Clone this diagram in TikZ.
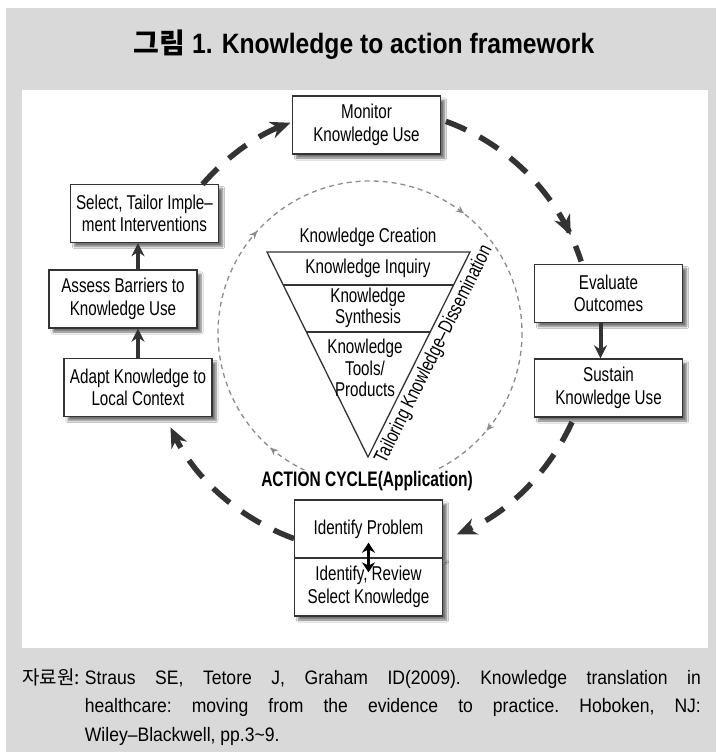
\documentclass[tikz,border=0pt]{standalone}
\usepackage{fontspec}
\setmainfont[FakeStretch=0.76]{Liberation Sans}
\newfontfamily\titlefont[FakeStretch=0.88]{Liberation Sans}
\newfontfamily\condfont[FakeStretch=0.74]{Liberation Sans}
\newfontfamily\notefont[FakeStretch=0.9]{Liberation Sans}
\newfontfamily\cjk{Noto Sans CJK KR}
\usetikzlibrary{
  arrows.meta,
  calc,
  positioning,
  shadows.blur,
  decorations.markings
}
\definecolor{panelgray}{HTML}{D9D9D9}
\definecolor{inkgray}{HTML}{333333}
\definecolor{ringgray}{HTML}{8C8C8C}
\tikzset{
  >=Stealth,
  line cap=round,
  line join=round,
  cyclebox/.style={draw=inkgray, line width=1.4pt, fill=white, minimum width=148pt, minimum height=58pt,
    align=center, inner sep=2pt, font=\fontsize{20}{22.5}\selectfont,
    blur shadow={shadow xshift=4pt, shadow yshift=-4pt, shadow blur steps=6, shadow opacity=55}},
  steparrow/.style={-{Stealth[length=13pt,width=13pt]}, line width=4pt, draw=inkgray},
  cyclearrow/.style={line width=5.5pt, draw=inkgray, line cap=butt, dash pattern=on 22pt off 15pt,
    -{Stealth[length=20pt,width=17pt]}},
  ring/.style={draw=ringgray, line width=1.3pt, dash pattern=on 5pt off 4pt},
  layerline/.style={draw=inkgray, line width=1.3pt},
  layertext/.style={font=\fontsize{20}{21.5}\selectfont, align=center, inner sep=1pt}
}

\begin{document}
\begin{tikzpicture}[x=1pt, y=-1pt]

% 바탕
\useasboundingbox (0,0) rectangle (716,752);
\fill[panelgray] (6,8) rectangle (716,752);
\fill[white] (22,90) rectangle (708,648);

% 제목
\node[font=\titlefont\bfseries\fontsize{28}{32}\selectfont] (title) at (364,45)
  {{\cjk\bfseries 그림} 1. Knowledge to action framework};

% 안쪽 점선 원
\coordinate (ring) at (370,333);
\draw[ring, postaction={decorate, decoration={markings,
    mark=at position 0.111 with {\arrow[ringgray]{Stealth[length=8pt,width=7pt]}},
    mark=at position 0.364 with {\arrow[ringgray]{Stealth[length=8pt,width=7pt]}},
    mark=at position 0.617 with {\arrow[ringgray]{Stealth[length=8pt,width=7pt]}},
    mark=at position 0.856 with {\arrow[ringgray]{Stealth[length=8pt,width=7pt]}}}}]
  ([shift={(0:152)}]ring) arc[start angle=0, end angle=360, radius=152];

% 지식 창출 깔때기
\coordinate (tl) at (267,252);
\coordinate (tr) at (470,252);
\coordinate (apex) at (368,457);
\draw[layerline] (tl) -- (tr) -- (apex) -- cycle;
\draw[layerline] ($(tl)!0.161!(apex)$) -- ($(tr)!0.161!(apex)$);
\draw[layerline] ($(tl)!0.39!(apex)$) -- ($(tr)!0.39!(apex)$);
\node[layertext] (creation) at (368,237) {Knowledge Creation};
\node[layertext] (inquiry) at (368,268.5) {Knowledge Inquiry};
\node[layertext] (synthesis) at (368,308) {Knowledge\\Synthesis};
\node[layertext] (tools) at (365,368) {Knowledge\\Tools/\\Products};
\path (apex) -- (tr) node[pos=0.53, sloped, below=3pt, layertext] (tailoring)
  {Tailoring Knowledge–Dissemination};

\node[font=\condfont\bfseries\fontsize{21}{24}\selectfont, fill=white, inner sep=1pt] (action)
  at (367,481) {ACTION CYCLE(Application)};

% 실행 순환 단계
\node[cyclebox] (monitor) at (366.5,125) {Monitor\\Knowledge Use};
\node[cyclebox] (select) at (144.5,213.5) {Select, Tailor Imple–\\ment Interventions};
\node[cyclebox] (assess) at (123,299) {Assess Barriers to\\Knowledge Use};
\node[cyclebox] (adapt) at (138,387.5) {Adapt Knowledge to\\Local Context};
\node[cyclebox] (evaluate) at (608.5,293.5) {Evaluate\\Outcomes};
\node[cyclebox] (sustain) at (608.5,388) {Sustain\\Knowledge Use};
\node[cyclebox] (problem) at (368.5,529) {Identify Problem};
\node[cyclebox, below=-1.4pt of problem] (review) {Identify, Review\\Select Knowledge};

% 단계 사이 화살표
\draw[steparrow] (adapt.north) -- (adapt.north |- assess.south);
\draw[steparrow] ([xshift=15pt]assess.north) -- ([xshift=15pt]assess.north |- select.south);
\draw[steparrow] ([xshift=-8pt]evaluate.south) -- ([xshift=-8pt]sustain.north);
\draw[{Stealth[length=10pt,width=13pt]}-{Stealth[length=10pt,width=13pt]}, line width=2.6pt, draw=black]
  ([yshift=16pt]problem.south) -- ([yshift=-15pt]review.north);

% 바깥 순환 화살표
\coordinate (hub) at (370,330);
\draw[cyclearrow] ([shift={(221:222)}]hub) arc[start angle=221, end angle=249, radius=222];
\draw[line width=5.5pt, draw=inkgray, line cap=butt, dash pattern=on 22pt off 15pt,
    postaction={decorate, decoration={markings,
    mark=at position 0.86 with {\arrow[inkgray]{Stealth[length=20pt,width=17pt]}}}}]
  ([shift={(290:222)}]hub) arc[start angle=290, end angle=342, radius=222];
\draw[cyclearrow] ([shift={(24.5:222)}]hub) arc[start angle=24.5, end angle=67, radius=222];
\draw[cyclearrow] ([shift={(110:222)}]hub) arc[start angle=110, end angle=154, radius=222];

% 자료원
\node[anchor=north west, inner sep=0pt, font=\notefont\fontsize{19.5}{28.5}\selectfont\frenchspacing] (source)
  at (22,664)
  {\begin{tabular}{@{}l@{\hspace{5pt}}p{616pt}@{}}
   {\cjk\fontsize{19}{28.5}\selectfont 자료원:} &
   Straus SE, Tetore J, Graham ID(2009). Knowledge translation in\linebreak
   healthcare: moving from the evidence to practice. Hoboken, NJ:\linebreak
   Wiley–Blackwell, pp.3\textasciitilde9.
   \end{tabular}};

\end{tikzpicture}
\end{document}
